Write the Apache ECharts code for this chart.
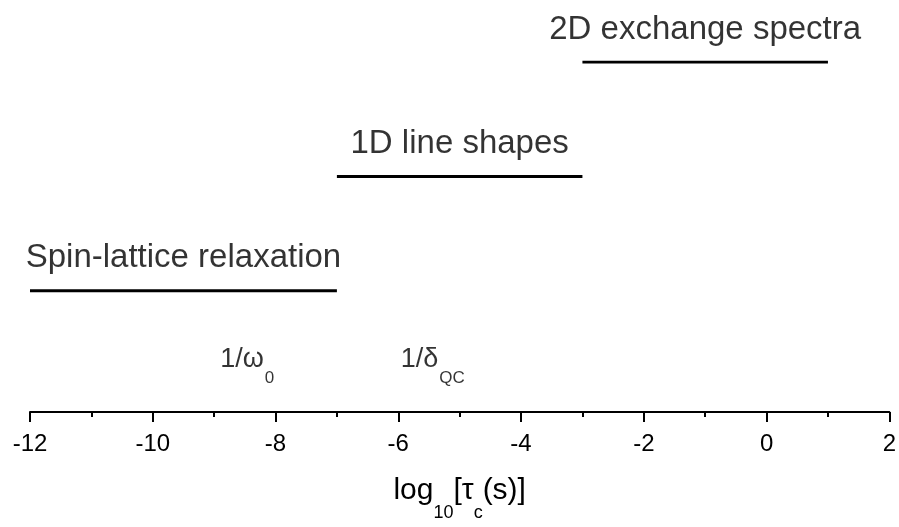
<!DOCTYPE html>
<html>
<head>
<meta charset="utf-8">
<script src="https://cdn.jsdelivr.net/npm/echarts@6/dist/echarts.min.js"></script>
<style>html,body{margin:0;padding:0;background:#fff;}#c{width:899px;height:527px;}</style>
</head>
<body>
<div id="c"></div>
<script>
// ---- data ----
const rangeLabels = ['Spin-lattice relaxation', '1D line shapes', '2D exchange spectra'];
const rangeStart = [-12, -7, -3];
const rangeEnd = [-7, -3, 1];
const rangeLevel = [1, 2, 3];
const markerLabels = ['1/{w|ω}{sub|0}', '1/{w|δ}{sub|QC}'];
const markerPos = [-8.46, -5.44];
const markerLevel = [0.4, 0.4];
const xMin = -12, xMax = 2, xInterval = 2;
const axisTitle = 'log{sub|10}[{t|τ}{sub|c}(s)]';

const FONT = '"Liberation Sans", Arial, Helvetica, sans-serif';
const series = [];
rangeLabels.forEach((name, i) => {
  series.push({
    type: 'line', name: name,
    data: [[rangeStart[i], rangeLevel[i]], [rangeEnd[i], rangeLevel[i]]],
    symbol: 'none', lineStyle: {color: '#000', width: 3}, silent: true
  });
  series.push({
    type: 'scatter',
    data: [[(rangeStart[i] + rangeEnd[i]) / 2, rangeLevel[i]]],
    symbolSize: 0, silent: true,
    label: {show: true, position: 'top', distance: 16, formatter: name,
      color: '#000', fontSize: 33, fontFamily: FONT}
  });
});
series.push({
  type: 'scatter',
  data: markerPos.map((x, i) => [x, markerLevel[i]]),
  symbolSize: 0, silent: true,
  label: {
    show: true, position: 'inside',
    formatter: p => markerLabels[p.dataIndex],
    color: '#000', fontSize: 27, fontFamily: FONT,
    rich: {
      w: {fontSize: 27, fontFamily: FONT, color: '#000'},
      sub: {fontSize: 17, fontFamily: FONT, color: '#000', padding: [37, 0, 0, 1]}
    }
  }
});

const chart = echarts.init(document.getElementById('c'), null, {renderer: 'canvas'});
chart.setOption({
  animation: false,
  backgroundColor: '#fff',
  grid: {left: 30, right: 8, top: 62, bottom: 102, containLabel: false},
  xAxis: {
    type: 'value', min: xMin, max: xMax, interval: xInterval,
    axisLine: {show: true, onZero: false, lineStyle: {color: '#000', width: 2}},
    axisTick: {show: true, length: 10, inside: false, lineStyle: {color: '#000', width: 2}},
    minorTick: {show: true, splitNumber: 2, length: 5, lineStyle: {color: '#000', width: 2}},
    splitLine: {show: false},
    axisLabel: {color: '#000', fontSize: 24, fontFamily: FONT, margin: 20},
    name: axisTitle,
    nameLocation: 'middle', nameGap: 47,
    nameTextStyle: {
      color: '#000', fontSize: 30, fontFamily: FONT,
      rich: {
        t: {fontSize: 30, fontFamily: FONT, color: '#000'},
        sub: {fontSize: 18, fontFamily: FONT, color: '#000', padding: [45, 0, 0, 0]}
      }
    }
  },
  yAxis: {type: 'value', min: -0.06, max: 3, show: false},
  series: series
});
</script>
</body>
</html>
